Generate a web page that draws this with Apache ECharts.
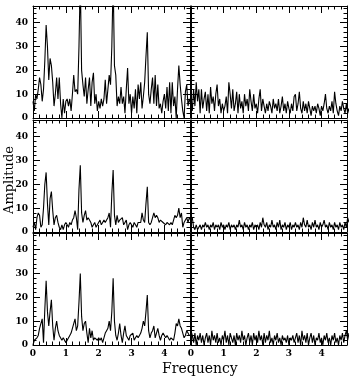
<!DOCTYPE html>
<html>
<head>
<meta charset="utf-8">
<script src="https://cdn.jsdelivr.net/npm/echarts@6/dist/echarts.min.js"></script>
<style>
  html, body { margin: 0; padding: 0; background: #fff; }
  #main { width: 351px; height: 381px; }
</style>
</head>
<body>
<div id="main"></div>
<script>
// frequency sampling of every spectrum (0, 0.04, 0.08 ...)
var freqStep = 0.04;
var xTicks = [0, 1, 2, 3, 4];
var yTicks = [0, 10, 20, 30, 40];

// left column: spectra with peaks
var ampTopLeft = [7,3,10,8,12,17,14,7,12,24,39,30,16,25,22,15,5,10,17,8,17,6,0,8,2,7,8,5,8,3,
  10,18,11,12,10,30,58,20,14,9,17,6,12,17,5,15,19,6,10,3,7,4,8,5,8,16,6,12,18,14,
  30,58,22,18,5,9,6,13,6,9,2,12,21,6,10,2,9,4,12,2,14,8,15,4,9,15,26,36,10,6,
  12,17,6,18,5,14,4,6,2,7,10,4,13,3,15,2,15,5,9,0,12,22,14,8,3,0,11,14,5,8,6,5];
var ampMidLeft = [2,4,1,6,8,7,2,3,10,20,25,12,3,14,17,9,3,6,7,4,2,1,3,1,3,4,3,2,4,3,
  5,6,9,6,1,18,28,8,4,7,9,5,6,5,4,2,3,4,2,3,3,5,3,4,5,4,5,6,8,2,
  16,26,7,3,7,4,5,5,6,3,4,5,1,3,4,4,2,4,3,2,4,4,4,8,5,4,12,19,4,3,
  4,6,8,6,7,6,4,5,5,4,4,3,4,4,3,4,3,5,7,6,7,10,6,8,2,4,5,6,4,6,5,6];
var ampBotLeft = [0,2,2,3,4,7,9,11,1,15,27,14,8,14,19,8,2,7,10,6,4,4,2,3,3,1,2,2,4,5,
  7,9,11,6,8,18,30,12,6,9,10,5,1,7,3,6,2,3,3,2,3,2,3,1,3,5,6,7,10,6,
  14,28,10,4,2,5,9,4,1,5,8,4,4,2,4,4,5,2,3,4,3,4,5,7,10,8,14,21,6,3,
  5,6,8,3,5,7,4,2,4,5,4,3,4,3,2,3,3,2,5,9,8,11,8,7,5,3,4,6,5,4,4,4];

// right column: noise spectra
var ampTopRight = [8,3,12,5,15,7,12,2,12,4,8,11,3,10,2,13,6,9,3,10,14,5,8,2,6,3,5,9,2,15,
  10,4,12,3,6,11,2,10,4,7,2,10,5,8,3,12,7,3,10,4,6,2,8,12,3,8,5,2,6,3,
  7,5,2,8,4,6,3,8,2,5,9,3,6,2,7,4,2,6,3,9,10,3,6,11,4,2,7,3,6,2,
  7,4,1,5,3,5,2,6,4,1,5,3,6,10,4,2,5,3,7,2,11,6,3,1,5,3,7,4,2,6,2,4];
var ampMidRight = [5,6,2,1,3,1,2,3,1,3,2,4,2,3,1,3,2,4,1,3,2,3,1,4,2,3,1,3,2,4,
  1,3,2,3,1,3,2,5,2,3,1,4,2,3,1,3,2,4,1,3,2,3,1,4,2,6,3,2,4,1,
  3,2,5,2,3,1,4,2,5,1,3,2,4,1,3,2,4,1,3,2,4,2,3,1,4,2,6,3,2,5,
  2,3,1,4,2,5,2,3,1,4,2,3,5,2,3,1,4,2,3,1,4,2,3,1,4,2,3,1,4,2,6,4];
var ampBotRight = [6,4,1,5,0,4,2,5,1,4,0,3,5,1,4,0,6,2,4,1,5,1,3,0,4,2,6,1,4,0,
  5,3,1,4,0,5,2,4,1,6,2,4,0,3,5,1,4,0,5,2,4,1,6,2,4,0,5,1,4,2,
  6,1,3,0,4,2,5,1,3,0,4,2,3,1,4,0,3,2,4,1,3,5,1,4,0,6,2,4,1,5,
  0,3,5,1,4,0,3,2,5,1,3,0,4,2,5,1,3,0,4,2,5,1,3,0,4,2,5,1,4,6,2,5];

var panels = [
  [ampTopLeft, ampTopRight],
  [ampMidLeft, ampMidRight],
  [ampBotLeft, ampBotRight]
];

var xMax = 4.78, yMax = 47;
var gridTops = [6, 120, 233];
var gridLefts = [33, 191];
var gridWidths = [157, 156];
var font = 'DejaVu Serif';

function toPairs(vals) {
  return vals.map(function (v, i) { return [+(i * freqStep).toFixed(2), v]; });
}

var grid = [], xAxis = [], yAxis = [], series = [];
var tick = { show: true, inside: true, length: 7, lineStyle: { color: '#000', width: 1 } };
var minor = { show: true, splitNumber: 5, length: 3.5, lineStyle: { color: '#000', width: 1 } };
var line = { show: true, onZero: false, lineStyle: { color: '#000', width: 1 } };

panels.forEach(function (row, r) {
  row.forEach(function (vals, c) {
    var g = grid.length;
    grid.push({ left: gridLefts[c], top: gridTops[r], width: gridWidths[c], height: 112 });
    var xi = xAxis.length, yi = yAxis.length;
    [ 'bottom', 'top' ].forEach(function (pos) {
      xAxis.push({
        type: 'value', gridIndex: g, position: pos, min: 0, max: xMax, interval: 1,
        axisLine: line, axisTick: tick, minorTick: minor, splitLine: { show: false },
        axisLabel: {
          show: pos === 'bottom' && r === 2, showMaxLabel: false, margin: 4,
          fontFamily: font, fontSize: 9, fontWeight: 'bold', color: '#000',
          formatter: function (v) { return xTicks.indexOf(v) >= 0 ? String(v) : ''; }
        }
      });
    });
    [ 'left', 'right' ].forEach(function (pos) {
      yAxis.push({
        type: 'value', gridIndex: g, position: pos, min: 0, max: yMax, interval: 10,
        axisLine: line, axisTick: tick, minorTick: minor, splitLine: { show: false },
        axisLabel: {
          show: pos === 'left' && c === 0, showMaxLabel: false, margin: 5,
          fontFamily: font, fontSize: 9, fontWeight: 'bold', color: '#000',
          formatter: function (v) { return yTicks.indexOf(v) >= 0 ? String(v) : ''; }
        }
      });
    });
    series.push({
      type: 'line', xAxisIndex: xi, yAxisIndex: yi, data: toPairs(vals),
      showSymbol: false, symbol: 'none', clip: true,
      lineStyle: { color: '#000', width: 1.1 }
    });
  });
});

var chart = echarts.init(document.getElementById('main'));
chart.setOption({
  animation: false,
  backgroundColor: '#fff',
  grid: grid,
  xAxis: xAxis,
  yAxis: yAxis,
  series: series,
  graphic: [
    { type: 'text', left: 162, top: 362,
      style: { text: 'Frequency', font: '14px "DejaVu Serif"', fill: '#000' } },
    { type: 'text', x: 3, y: 214, rotation: Math.PI / 2,
      style: { text: 'Amplitude', font: '13px "DejaVu Serif"', fill: '#000' } }
  ]
});
</script>
</body>
</html>
